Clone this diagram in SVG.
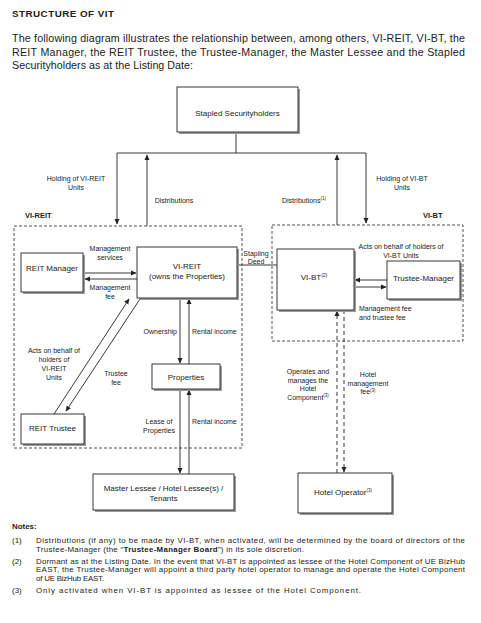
<svg xmlns="http://www.w3.org/2000/svg" width="481" height="623" viewBox="0 0 481 623">
<defs>
<marker id="ah" markerWidth="6" markerHeight="6" refX="5" refY="3" orient="auto" markerUnits="userSpaceOnUse">
<path d="M0,0.5 L5.5,3 L0,5.5 Z" fill="#222"/>
</marker>
<style>
text{font-family:"Liberation Sans",Arial,sans-serif;fill:#222}
.t{font-size:10.7px}
.b{font-weight:bold}
.n{font-size:7.9px}
.l{font-size:7px;text-anchor:middle}
.lb{font-size:8px;text-anchor:middle}
.box{fill:#fff;stroke:#222;stroke-width:0.9}
.sh{fill:#9a9a9a}
.ln{stroke:#222;stroke-width:0.9;fill:none}
.arr{stroke:#222;stroke-width:0.9;fill:none;marker-end:url(#ah)}
.dbox{fill:none;stroke:#222;stroke-width:0.8;stroke-dasharray:3,2}
.darr{stroke:#222;stroke-width:0.9;fill:none;stroke-dasharray:4,3;marker-end:url(#ah)}
</style>
</defs>
<rect width="481" height="623" fill="#fff"/>

<text x="12" y="17" class="b" font-size="9.8" textLength="102" lengthAdjust="spacing">STRUCTURE OF VIT</text>
<text x="12" y="42" class="t" textLength="453" lengthAdjust="spacing">The following diagram illustrates the relationship between, among others, VI-REIT, VI-BT, the</text>
<text x="12" y="55.5" class="t" textLength="453" lengthAdjust="spacing">REIT Manager, the REIT Trustee, the Trustee-Manager, the Master Lessee and the Stapled</text>
<text x="12" y="69" class="t" textLength="181" lengthAdjust="spacing">Securityholders as at the Listing Date:</text>

<!-- dashed containers -->
<rect class="dbox" x="14" y="226" width="228" height="222"/>
<rect class="dbox" x="272" y="225" width="191" height="116"/>
<text x="25" y="218" class="b" font-size="7.5">VI-REIT</text>
<text x="423" y="218" class="b" font-size="7.5">VI-BT</text>

<g id="connectors">
<path class="ln" d="M236,132 V153 M117,153 H366"/>
<path class="arr" d="M117,153 V224"/>
<path class="arr" d="M147,226 V155"/>
<path class="arr" d="M337,225 V155"/>
<path class="arr" d="M366,153 V223"/>
<path class="arr" d="M84,273 H136"/>
<path class="arr" d="M137,279 H85"/>
<path class="ln" d="M237,265 H277"/>
<path class="arr" d="M387,280 H355"/>
<path class="arr" d="M354,287 H386"/>
<path class="arr" d="M54,414 L129,299"/>
<path class="arr" d="M140,299 L66,411"/>
<path class="arr" d="M180,298 V363"/>
<path class="arr" d="M189,364 V299"/>
<path class="arr" d="M180,389 V473"/>
<path class="arr" d="M189,474 V390"/>
<path class="darr" d="M337,473 V311"/>
<path class="darr" d="M344,310 V472"/>
</g>

<!-- connector labels -->
<text class="l" x="76" y="181">Holding of VI-REIT</text>
<text class="l" x="76" y="190">Units</text>
<text class="l" x="174" y="203">Distributions</text>
<text class="l" x="304" y="203">Distributions<tspan font-size="4.5" dy="-3">(1)</tspan></text>
<text class="l" x="402" y="181">Holding of VI-BT</text>
<text class="l" x="402" y="190">Units</text>
<text class="l" x="110" y="251">Management</text>
<text class="l" x="110" y="260">services</text>
<text class="l" x="110" y="290">Management</text>
<text class="l" x="110" y="299">fee</text>
<text class="l" x="256" y="255.5">Stapling</text>
<text class="l" x="256" y="263.5">Deed</text>
<text class="l" x="401" y="249">Acts on behalf of holders of</text>
<text class="l" x="401" y="258">VI-BT Units</text>
<text x="359" y="311" font-size="7">Management fee</text>
<text x="359" y="320" font-size="7">and trustee fee</text>
<text class="l" x="54" y="353">Acts on behalf of</text>
<text class="l" x="54" y="362">holders of</text>
<text class="l" x="54" y="371">VI-REIT</text>
<text class="l" x="54" y="380">Units</text>
<text class="l" x="116" y="376">Trustee</text>
<text class="l" x="116" y="385">fee</text>
<text x="177" y="334" font-size="7" text-anchor="end">Ownership</text>
<text x="192" y="334" font-size="7">Rental income</text>
<text class="l" x="159" y="424">Lease of</text>
<text class="l" x="159" y="433">Properties</text>
<text x="192" y="424" font-size="7">Rental income</text>
<text class="l" x="308" y="374">Operates and</text>
<text class="l" x="308" y="382.5">manages the</text>
<text class="l" x="308" y="391">Hotel</text>
<text class="l" x="308" y="399.5">Component<tspan font-size="4.5" dy="-2.5">(3)</tspan></text>
<text class="l" x="368" y="377">Hotel</text>
<text class="l" x="368" y="385.5">management</text>
<text class="l" x="368" y="394">fee<tspan font-size="4.5" dy="-2.5">(3)</tspan></text>

<g id="stapled">
<rect class="sh" x="179" y="89" width="121" height="45"/>
<rect class="box" x="177" y="87" width="121" height="45"/>
<text class="lb" x="237.5" y="116">Stapled Securityholders</text>
</g>
<g id="reit-manager">
<rect class="sh" x="23" y="255" width="62" height="39"/>
<rect class="box" x="21" y="253" width="62" height="39"/>
<text class="lb" x="52" y="271">REIT Manager</text>
</g>
<g id="vi-reit">
<rect class="sh" x="139" y="249" width="100" height="51"/>
<rect class="box" x="137" y="247" width="100" height="51"/>
<text class="lb" x="187" y="269">VI-REIT</text>
<text class="lb" x="187" y="279">(owns the Properties)</text>
</g>
<g id="vi-bt">
<rect class="sh" x="279" y="251" width="77" height="61"/>
<rect class="box" x="277" y="249" width="77" height="61"/>
<text class="lb" x="314" y="280">VI-BT<tspan font-size="5" dy="-3">(2)</tspan></text>
</g>
<g id="trustee-manager">
<rect class="sh" x="389" y="263" width="73" height="38"/>
<rect class="box" x="387" y="261" width="73" height="38"/>
<text class="lb" x="423.5" y="281">Trustee-Manager</text>
</g>
<g id="properties">
<rect class="sh" x="154" y="366" width="68" height="25"/>
<rect class="box" x="152" y="364" width="68" height="25"/>
<text class="lb" x="186" y="380">Properties</text>
</g>
<g id="reit-trustee">
<rect class="sh" x="23" y="416" width="63" height="30"/>
<rect class="box" x="21" y="414" width="63" height="30"/>
<text class="lb" x="52.5" y="431">REIT Trustee</text>
</g>
<g id="master-lessee">
<rect class="sh" x="95" y="476" width="141" height="36"/>
<rect class="box" x="93" y="474" width="141" height="36"/>
<text class="lb" x="163.5" y="491" font-size="6.9">Master Lessee / Hotel Lessee(s) /</text>
<text class="lb" x="163.5" y="501" font-size="6.9">Tenants</text>
</g>
<g id="hotel-operator">
<rect class="sh" x="300" y="475" width="94" height="40"/>
<rect class="box" x="298" y="473" width="94" height="40"/>
<text class="lb" x="343" y="495" font-size="7">Hotel Operator<tspan font-size="4.5" dy="-3">(3)</tspan></text>
</g>

<text x="12" y="529" class="n b">Notes:</text>
<text x="12" y="543" class="n">(1)</text>
<text x="36" y="543" class="n" textLength="429" lengthAdjust="spacing">Distributions (if any) to be made by VI-BT, when activated, will be determined by the board of directors of the</text>
<text x="36" y="551.5" class="n" textLength="268" lengthAdjust="spacing">Trustee-Manager (the “<tspan font-weight="bold">Trustee-Manager Board</tspan>”) in its sole discretion.</text>
<text x="12" y="563.5" class="n">(2)</text>
<text x="36" y="563.5" class="n" textLength="429" lengthAdjust="spacing">Dormant as at the Listing Date. In the event that VI-BT is appointed as lessee of the Hotel Component of UE BizHub</text>
<text x="36" y="572" class="n" textLength="429" lengthAdjust="spacing">EAST, the Trustee-Manager will appoint a third party hotel operator to manage and operate the Hotel Component</text>
<text x="36" y="580.5" class="n" textLength="68" lengthAdjust="spacing">of UE BizHub EAST.</text>
<text x="12" y="593" class="n">(3)</text>
<text x="36" y="593" class="n" textLength="325" lengthAdjust="spacing">Only activated when VI-BT is appointed as lessee of the Hotel Component.</text>
</svg>
